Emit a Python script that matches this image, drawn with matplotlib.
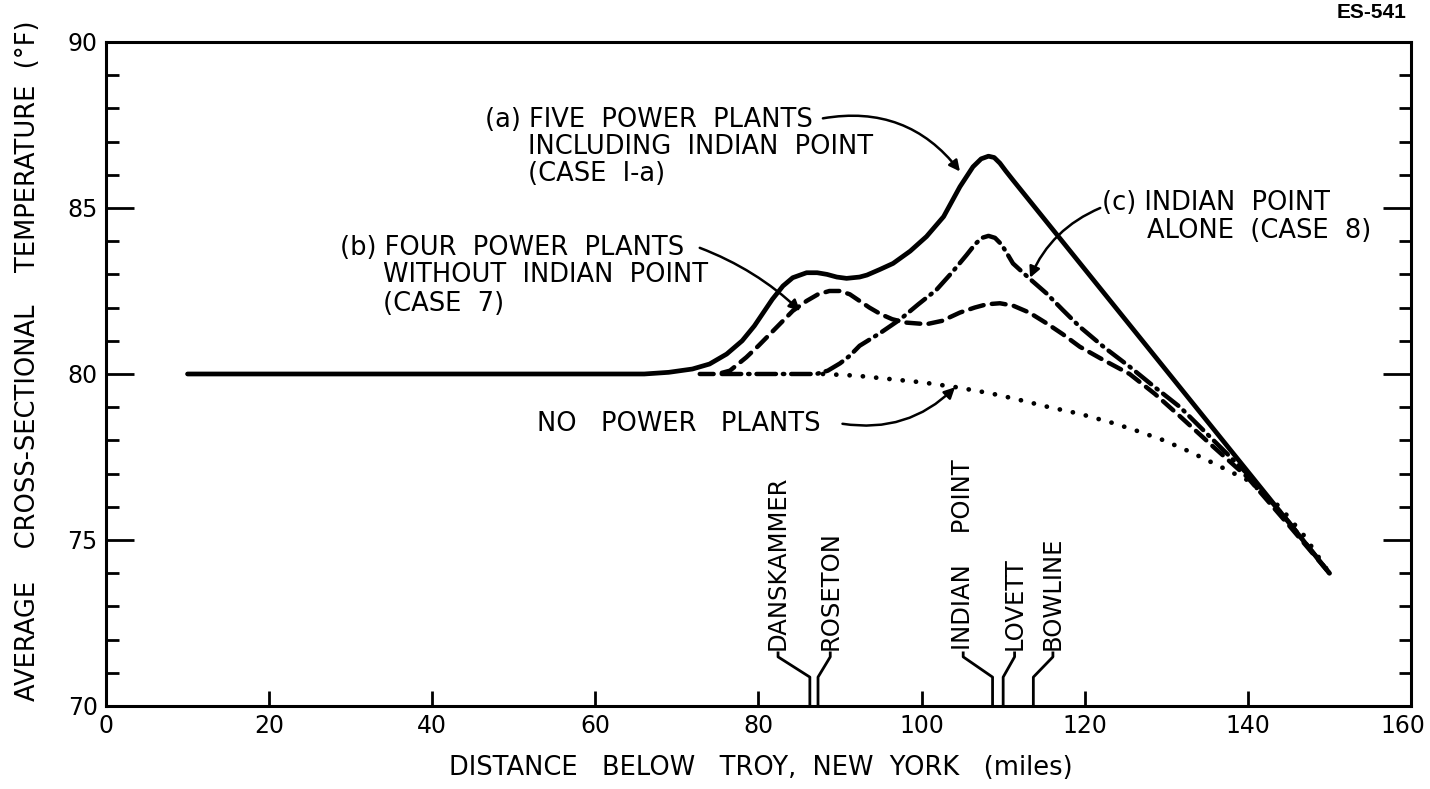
"""
plot.py
~~~~~~~

Average cross-sectional temperature below Troy, NY with and without plants.

"""
import matplotlib

matplotlib.use('Agg')
import matplotlib.pyplot as plt
import matplotlib.transforms as mtransforms

plt.rcParams['font.family'] = ['DejaVu Sans']
plt.rcParams['lines.scale_dashes'] = False

# Curve (a): five power plants including Indian Point (case 1-a)
five_x = [10, 30, 50, 66, 69, 71.9, 74, 76.1, 78, 79.5, 81.7, 83, 84.2, 85.9,
          87.2, 88.4, 89.6, 90.8, 92.4, 93.3, 94.9, 96.5, 98.6, 100.6, 102.7,
          104.7, 106.3, 107.3, 108.2, 108.9, 109.6, 110.3, 111.2, 115.3,
          119.4, 127.6, 135.8, 143.9, 150]
five_y = [80.0, 80.0, 80.0, 80.0, 80.05, 80.15, 80.3, 80.6, 81.0, 81.45,
          82.25, 82.65, 82.9, 83.05, 83.05, 83.0, 82.92, 82.88, 82.92, 82.98,
          83.15, 83.33, 83.7, 84.14, 84.74, 85.64, 86.24, 86.48, 86.56, 86.52,
          86.35, 86.12, 85.84, 84.59, 83.34, 80.84, 78.34, 75.87, 74.0]

# Curve (b): four power plants without Indian Point (case 7)
four_x = [72.8, 75, 76.5, 78.5, 80, 81.4, 83, 84.2, 85.9, 87.3, 88.7, 90,
          91.2, 92.4, 93.6, 95, 96.4, 98, 100.6, 102.5, 104.7, 106.5, 108.0,
          109.6, 111.2, 113.2, 115.3, 117.3, 119.4, 122.3, 125.5, 128.6,
          131.7, 135.8, 139.9, 145, 150]
four_y = [80.0, 80.0, 80.1, 80.5, 80.85, 81.2, 81.6, 81.9, 82.2, 82.4, 82.5,
          82.5, 82.4, 82.2, 82.0, 81.8, 81.65, 81.55, 81.5, 81.6, 81.85, 82.0,
          82.1, 82.13, 82.06, 81.85, 81.53, 81.2, 80.82, 80.42, 80.0, 79.4,
          78.72, 77.8, 76.9, 75.45, 74.0]

# Curve (c): Indian Point alone (case 8)
ip_x = [75.5, 80, 85, 87.1, 88.5, 90, 91.2, 92.4, 94.9, 97.4, 99.6, 101.8,
        103.7, 105.5, 106.6, 107.4, 108.2, 109.0, 109.8, 110.5, 111.2, 113.2,
        115.3, 117.3, 119.4, 122.4, 125.5, 128.6, 131.7, 135.8, 139.9, 145,
        150]
ip_y = [80.0, 80.0, 80.0, 80.0, 80.1, 80.32, 80.55, 80.85, 81.23, 81.65,
        82.1, 82.53, 83.05, 83.58, 83.92, 84.1, 84.16, 84.1, 83.9, 83.62,
        83.33, 82.88, 82.43, 81.93, 81.42, 80.8, 80.22, 79.6, 79.0, 78.0,
        77.0, 75.55, 74.0]

# No power plants
none_x = [87.9, 92, 96, 100, 104.3, 108.4, 111.5, 115.3, 119.4, 123.5,
          126.5, 129.6, 132.7, 135.8, 139.9, 143.9, 147, 150]
none_y = [80.0, 79.95, 79.85, 79.75, 79.6, 79.42, 79.25, 79.02, 78.8, 78.52,
          78.28, 78.01, 77.68, 77.31, 76.81, 76.0, 75.1, 74.0]

# Plant locations (miles below Troy)
plant_names = ['DANSKAMMER', 'ROSETON', 'INDIAN    POINT', 'LOVETT',
               'BOWLINE']
plant_miles = [86.3, 87.3, 108.7, 110.0, 113.7]
plant_label_x = [82.4, 88.8, 105.1, 111.4, 116.1]

x_ticks = [0, 20, 40, 60, 80, 100, 120, 140, 160]
y_ticks = [70, 75, 80, 85, 90]

fig = plt.figure(figsize=(14.3, 7.89), dpi=100)
ax = fig.add_axes([0.0741, 0.1052, 0.9126, 0.8416])

ax.plot(five_x, five_y, color='black', lw=3.4, solid_capstyle='round',
        solid_joinstyle='round')
ax.plot(four_x, four_y, color='black', lw=3.2, linestyle=(0, (10, 6)),
        dash_capstyle='round')
ax.plot(ip_x, ip_y, color='black', lw=3.2, linestyle=(0, (14, 5, 1, 5)),
        dash_capstyle='round')
ax.plot(none_x, none_y, color='black', lw=3.4, linestyle=(0, (0.1, 9.5)),
        dash_capstyle='round')

ax.set_xlim(0, 160)
ax.set_ylim(70, 90)
ax.set_xticks(x_ticks)
ax.set_yticks(y_ticks)
ax.set_yticks(range(70, 91), minor=True)
ax.set_xticklabels([str(v) for v in x_ticks])
ax.tick_params(axis='x', which='major', direction='in', length=11, width=2,
               labelsize=17, pad=6)
ax.tick_params(axis='y', which='major', direction='in', length=20, width=2,
               labelsize=17, pad=6, right=True)
ax.tick_params(axis='y', which='minor', direction='in', length=9, width=2,
               right=True)
ax.tick_params(axis='x', which='minor', bottom=False)
for side in ax.spines.values():
    side.set_linewidth(2.2)

# keep the last x label inside the figure
last = ax.get_xticklabels()[-1]
last.set_transform(last.get_transform() + mtransforms.ScaledTranslation(
    -6 / 72, 0, fig.dpi_scale_trans))

txt = dict(fontsize=18.5, color='black', va='center', ha='left')
ax.text(46.5, 87.65, '(a) FIVE  POWER  PLANTS', **txt)
ax.text(51.7, 86.84, 'INCLUDING  INDIAN  POINT', **txt)
ax.text(51.7, 86.02, '(CASE  I-a)', **txt)
ax.text(28.7, 83.8, '(b) FOUR  POWER  PLANTS', **txt)
ax.text(34.0, 82.98, 'WITHOUT  INDIAN  POINT', **txt)
ax.text(34.0, 82.1, '(CASE  7)', **txt)
ax.text(122.1, 85.15, '(c) INDIAN  POINT', **txt)
ax.text(127.6, 84.3, 'ALONE  (CASE  8)', **txt)
ax.text(52.8, 78.5, 'NO   POWER   PLANTS', **txt)

arrow = dict(arrowstyle='-|>', color='black', lw=1.8, mutation_scale=16,
             shrinkA=0, shrinkB=0)
ax.annotate('', xy=(104.7, 86.1), xytext=(87.9, 87.7),
            arrowprops=dict(arrow, connectionstyle='arc3,rad=-0.3'))
ax.annotate('', xy=(85.1, 81.9), xytext=(72.8, 83.8),
            arrowprops=dict(arrow, connectionstyle='arc3,rad=-0.1'))
ax.annotate('', xy=(113.3, 82.9), xytext=(121.9, 85.0),
            arrowprops=dict(arrow, connectionstyle='arc3,rad=0.2'))
ax.annotate('', xy=(104.1, 79.6), xytext=(90.3, 78.5),
            arrowprops=dict(arrow, connectionstyle='arc3,rad=0.25'))

# plant markers along the bottom axis
for name, mile, lx in zip(plant_names, plant_miles, plant_label_x):
    ax.text(lx, 71.7, name, rotation=90, fontsize=17.5, ha='center',
            va='bottom')
    ax.plot([lx, lx, mile, mile], [71.6, 71.48, 70.87, 70.0], color='black',
            lw=2, solid_joinstyle='round')

fig.text(28 / 1430, 0.5425,
         'AVERAGE    CROSS-SECTIONAL    TEMPERATURE  (°F)', rotation=90,
         fontsize=18.5, ha='center', va='center')
fig.text(0.532, 0.026,
         'DISTANCE   BELOW   TROY,  NEW  YORK   (miles)',
         fontsize=18.5, ha='center', va='center')
fig.text(1407 / 1430, 1 - 13 / 789, 'ES-541', fontsize=15, weight='bold',
         family='Liberation Sans', ha='right', va='center')

fig.savefig('out.png', dpi=100)
